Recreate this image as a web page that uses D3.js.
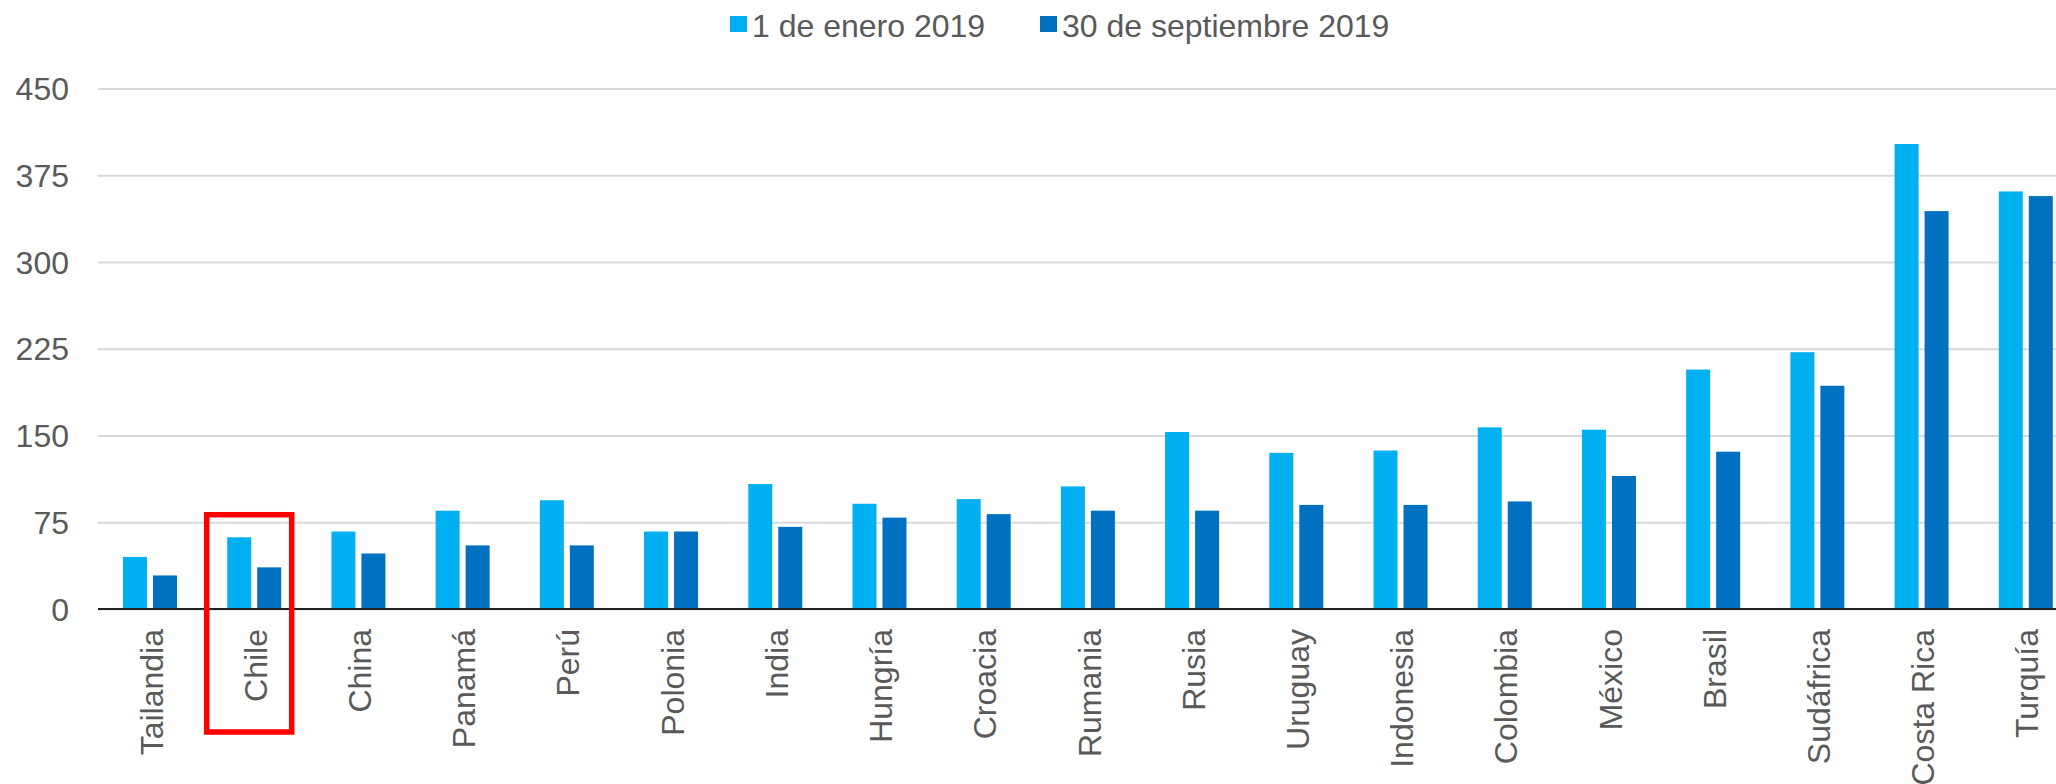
<!DOCTYPE html>
<meta charset="utf-8">
<style>
body { margin: 0; background: #fff; }
svg { display: block; }
text { font-family: "Liberation Sans", Arial, Helvetica, sans-serif; fill: #595959; }
.grid line { stroke: #d9d9d9; stroke-width: 2px; }
.grid path { display: none; }
</style>
<svg width="2056" height="784"></svg>
<script src="https://d3js.org/d3.v7.min.js"></script>
<script>

var paises = ["Tailandia", "Chile", "China", "Panamá", "Perú", "Polonia", "India", "Hungría",
  "Croacia", "Rumania", "Rusia", "Uruguay", "Indonesia", "Colombia", "México", "Brasil",
  "Sudáfrica", "Costa Rica", "Turquía"];
var enero = [45, 62, 67, 85, 94, 67, 108, 91, 95, 106, 153, 135, 137, 157, 155, 207, 222, 402, 361];
var septiembre = [29, 36, 48, 55, 55, 67, 71, 79, 82, 85, 85, 90, 90, 93, 115, 136, 193, 344, 357];
var series = ["1 de enero 2019", "30 de septiembre 2019"];
var colores = ["#00b0f0", "#0070c0"];
var yTicks = [0, 75, 150, 225, 300, 375, 450];

var svg = d3.select("svg");

var x0 = d3.scaleBand().domain(paises).range([98, 2078]);
var x1 = d3.scaleBand().domain(series).range([25, 79]).paddingInner(0.2);
var y = d3.scaleLinear().domain([0, 450]).range([609, 88.5]);

// gridlines
svg.append("g")
    .attr("class", "grid")
    .attr("transform", "translate(98,0)")
    .call(d3.axisLeft(y).tickValues(yTicks).tickSize(-2000).tickFormat(""));

// y labels
svg.append("g").selectAll("text")
  .data(yTicks)
  .enter().append("text")
    .attr("x", 69)
    .attr("y", function(d) { return y(d); })
    .attr("dy", "0.36em")
    .attr("text-anchor", "end")
    .attr("font-size", 32)
    .text(function(d) { return d; });

// bars
var rows = paises.map(function(p, i) { return { pais: p, valores: [enero[i], septiembre[i]] }; });

var grupos = svg.append("g").selectAll("g")
  .data(rows)
  .enter().append("g")
    .attr("transform", function(d) { return "translate(" + x0(d.pais) + ",0)"; });

grupos.selectAll("rect")
  .data(function(d) { return d.valores.map(function(v, j) { return { s: series[j], v: v, j: j }; }); })
  .enter().append("rect")
    .attr("x", function(d) { return x1(d.s); })
    .attr("width", x1.bandwidth())
    .attr("y", function(d) { return y(d.v); })
    .attr("height", function(d) { return y(0) - y(d.v); })
    .attr("fill", function(d) { return colores[d.j]; });

// baseline
svg.append("line")
    .attr("x1", 98).attr("x2", 2056)
    .attr("y1", y(0)).attr("y2", y(0))
    .attr("stroke", "#222").attr("stroke-width", 2);

// x labels
svg.append("g").selectAll("text")
  .data(paises)
  .enter().append("text")
    .attr("transform", function(d) {
      return "translate(" + (x0(d) + x0.bandwidth() / 2 + 1) + "," + (y(0) + 20) + ") rotate(-90)";
    })
    .attr("dy", "0.36em")
    .attr("text-anchor", "end")
    .attr("font-size", 32)
    .text(function(d) { return d; });

// highlight box on Chile
svg.append("rect")
    .attr("x", x0("Chile") + 4.5)
    .attr("y", y(81.5))
    .attr("width", 85)
    .attr("height", y(0) + 123 - y(81.5))
    .attr("fill", "none")
    .attr("stroke", "#ff0000")
    .attr("stroke-width", 5.5);

// legend
var leyenda = svg.append("g").selectAll("g")
  .data(series)
  .enter().append("g")
    .attr("transform", function(d, i) { return "translate(" + [730, 1040][i] + ",16)"; });

leyenda.append("rect")
    .attr("width", 17).attr("height", 16)
    .attr("fill", function(d, i) { return colores[i]; });

leyenda.append("text")
    .attr("x", 22)
    .attr("y", 9)
    .attr("dy", "0.36em")
    .attr("font-size", 32)
    .text(function(d) { return d; });

</script>
